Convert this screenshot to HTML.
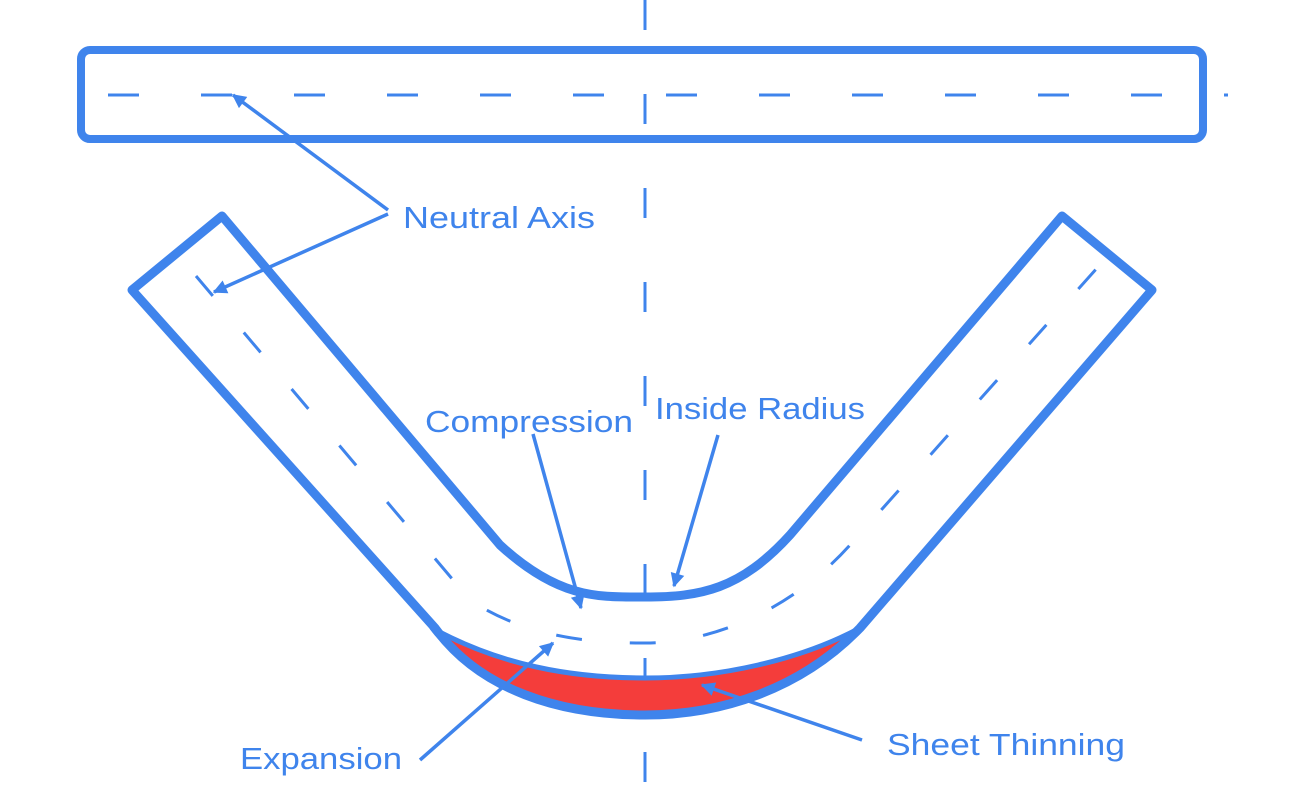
<!DOCTYPE html>
<html><head><meta charset="utf-8"><style>
html,body{margin:0;padding:0;background:#fff;}
svg{display:block;}
text{font-family:"Liberation Sans",sans-serif;font-size:31px;fill:#3f84ec;}
</style></head><body>
<svg width="1290" height="804" viewBox="0 0 1290 804" xmlns="http://www.w3.org/2000/svg">
<defs>
<marker id="ar2" viewBox="0 0 10 10" refX="9" refY="5" markerWidth="16" markerHeight="14" orient="auto" markerUnits="userSpaceOnUse">
<path d="M0,0 L10,5 L0,10 Z" fill="#3f84ec"/>
</marker>
</defs>
<line x1="645" y1="0" x2="645" y2="790" stroke="#3f84ec" stroke-width="3" stroke-dasharray="30 64"/>
<rect x="81" y="50" width="1122" height="89" rx="9" fill="none" stroke="#3f84ec" stroke-width="8"/>
<line x1="108" y1="95" x2="1228" y2="95" stroke="#3f84ec" stroke-width="3" stroke-dasharray="31 62"/>
<path d="M432,628 C500,665 570,678 645,678 C720,678 800,660 860,628 C800,690 720,715 645,715 C560,715 480,690 432,628 Z" fill="#f43d3b" stroke="#3f84ec" stroke-width="5" stroke-linejoin="round"/>
<path d="M222,216 L500,545 C560,600 600,597 645,597 C700,597 740,590 790,535 L1062,216 L1152,290 L860,628 C800,690 720,715 645,715 C560,715 480,690 435,628 L132,290 Z" fill="none" stroke="#3f84ec" stroke-width="9" stroke-linejoin="round"/>
<path d="M196,276 L470,600 C530,640 600,643 645,643 C710,643 790,612 850,545 L1106,258" fill="none" stroke="#3f84ec" stroke-width="3" stroke-dasharray="26 48"/>
<line x1="388" y1="210" x2="233" y2="95" stroke="#3f84ec" stroke-width="3.5" marker-end="url(#ar2)"/>
<line x1="388" y1="214" x2="214" y2="292" stroke="#3f84ec" stroke-width="3.5" marker-end="url(#ar2)"/>
<line x1="533" y1="434" x2="581" y2="608" stroke="#3f84ec" stroke-width="3.5" marker-end="url(#ar2)"/>
<line x1="718" y1="435" x2="674" y2="586" stroke="#3f84ec" stroke-width="3.5" marker-end="url(#ar2)"/>
<line x1="420" y1="760" x2="553" y2="643" stroke="#3f84ec" stroke-width="3.5" marker-end="url(#ar2)"/>
<line x1="862" y1="740" x2="702" y2="685" stroke="#3f84ec" stroke-width="3.5" marker-end="url(#ar2)"/>
<text x="403" y="228" textLength="192" lengthAdjust="spacingAndGlyphs">Neutral Axis</text>
<text x="425" y="432" textLength="208" lengthAdjust="spacingAndGlyphs">Compression</text>
<text x="655" y="419" textLength="210" lengthAdjust="spacingAndGlyphs">Inside Radius</text>
<text x="240" y="769" textLength="162" lengthAdjust="spacingAndGlyphs">Expansion</text>
<text x="887" y="755" textLength="238" lengthAdjust="spacingAndGlyphs">Sheet Thinning</text>
</svg>
</body></html>
